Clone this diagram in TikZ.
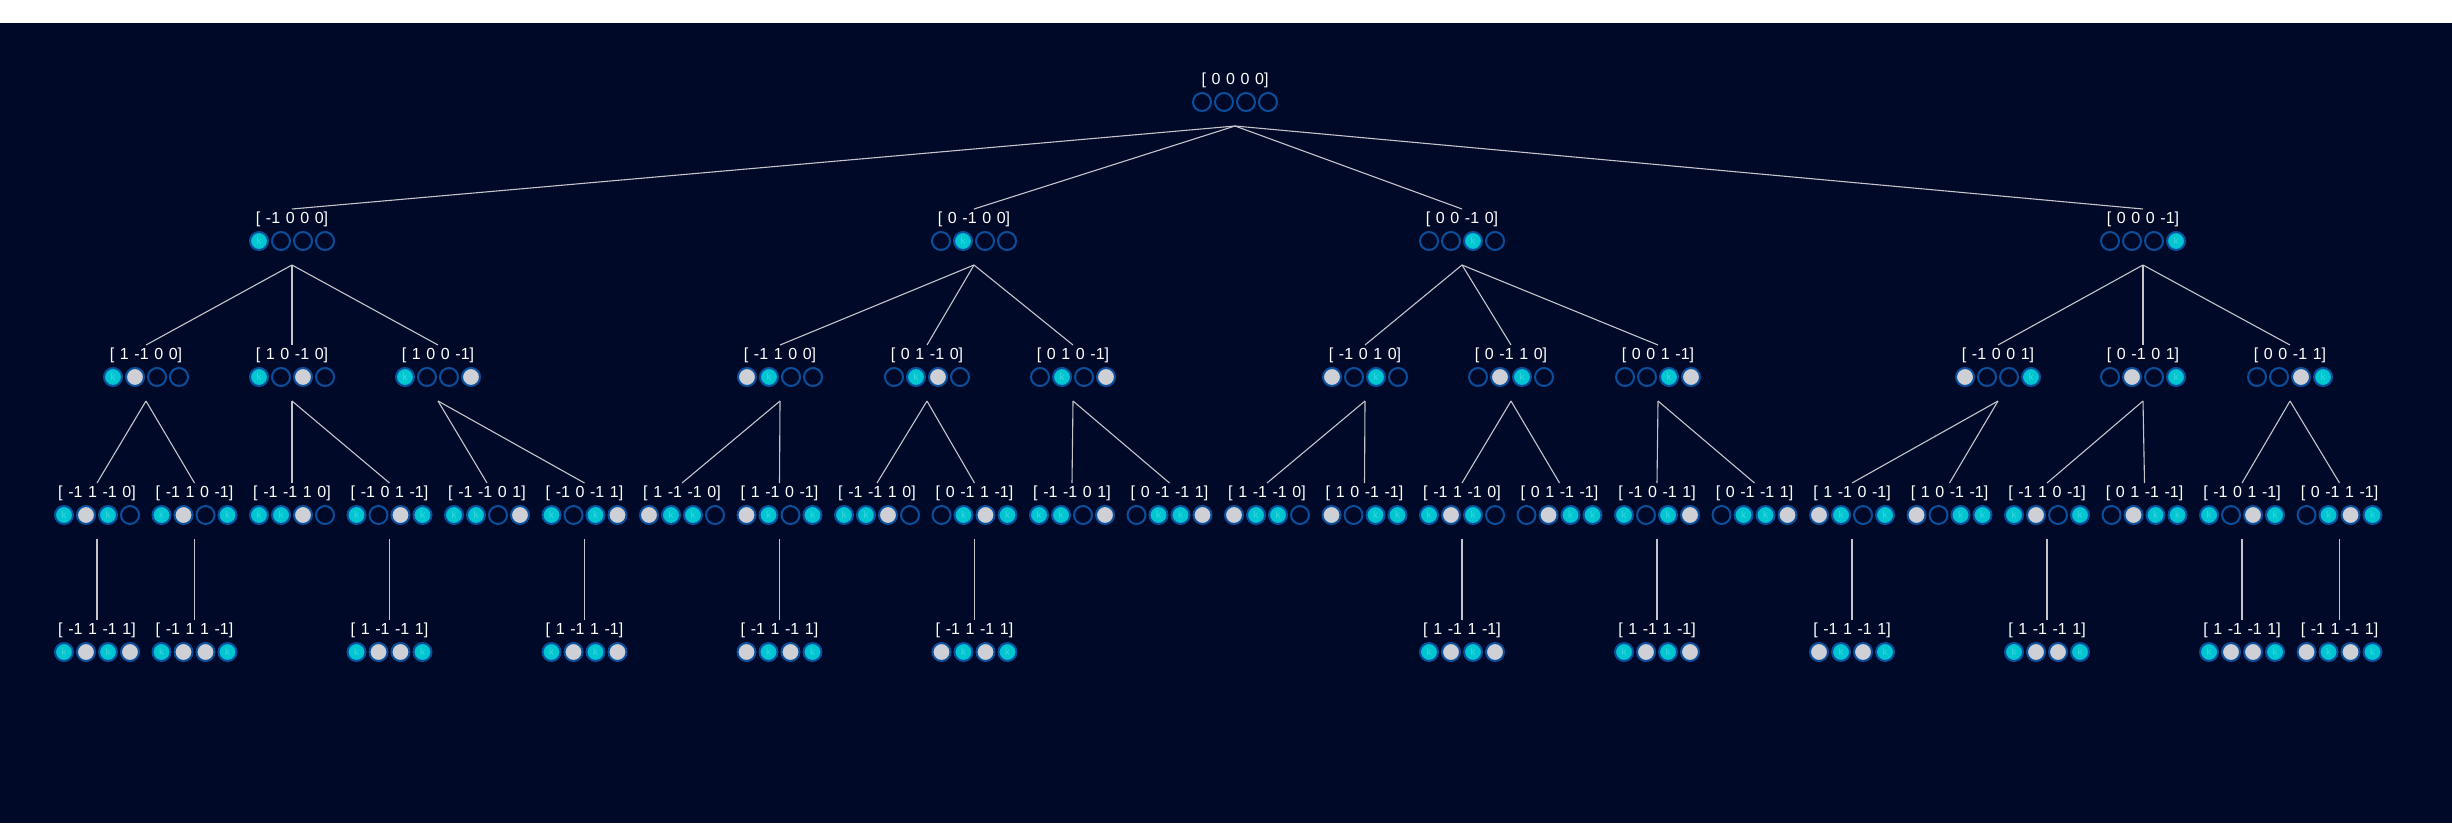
\documentclass[tikz,border=0pt]{standalone}
\usepackage{fontspec}
\setmainfont{Liberation Sans}
\definecolor{bg}{HTML}{000A28}
\definecolor{ring}{HTML}{0B4F9C}
\definecolor{cy}{HTML}{00C6D2}
\definecolor{cyk}{HTML}{3AD6E0}
\definecolor{gr}{HTML}{CFD0D6}
\definecolor{edgecol}{HTML}{C4C4CA}
\tikzset{
 lbl/.style={text=white, inner sep=0pt, font=\fontsize{16}{16}\selectfont},
 dot/.style={circle, draw=ring, line width=2pt, minimum size=18pt, inner sep=0pt},
 dotC/.style={dot, fill=cy},
 dotG/.style={dot, fill=gr},
 dotE/.style={dot, fill=bg},
 link/.style={draw=edgecol, line width=1.1pt},
}
\newcommand\dcC{\fontsize{10}{10}\selectfont\textcolor{cyk}{k}}
\newcommand\dcG{}
\newcommand\dcE{}
\newcommand\tn[5]{%
 \node[lbl] (#1) at (#2,#3) {\spaceskip=5.6pt\relax[ #4]};
 \coordinate (#1-t) at (#2,#3-10);
 \coordinate (#1-b) at (#2,#3+46);
 \foreach \s [count=\i] in {#5} {\node[dot\s] (#1-\i) at ({#2+(\i-2.5)*22},#3+22) {\csname dc\s\endcsname};}
}
\begin{document}
\begin{tikzpicture}[x=1pt,y=-1pt]
\useasboundingbox (0,0) rectangle (2452,823);
\fill[white] (0,0) rectangle (2452,23);
\fill[bg] (0,23) rectangle (2452,823);
% root
\tn{r}{1235}{80}{0 0 0 0}{E,E,E,E}
% level 1
\tn{a}{292}{219}{-1 0 0 0}{C,E,E,E}
\tn{b}{974}{219}{0 -1 0 0}{E,C,E,E}
\tn{c}{1462}{219}{0 0 -1 0}{E,E,C,E}
\tn{d}{2143}{219}{0 0 0 -1}{E,E,E,C}
% level 2
\tn{a1}{146}{355}{1 -1 0 0}{C,G,E,E}
\tn{a2}{292}{355}{1 0 -1 0}{C,E,G,E}
\tn{a3}{438}{355}{1 0 0 -1}{C,E,E,G}
\tn{b1}{780}{355}{-1 1 0 0}{G,C,E,E}
\tn{b2}{927}{355}{0 1 -1 0}{E,C,G,E}
\tn{b3}{1073}{355}{0 1 0 -1}{E,C,E,G}
\tn{c1}{1365}{355}{-1 0 1 0}{G,E,C,E}
\tn{c2}{1511}{355}{0 -1 1 0}{E,G,C,E}
\tn{c3}{1658}{355}{0 0 1 -1}{E,E,C,G}
\tn{d1}{1998}{355}{-1 0 0 1}{G,E,E,C}
\tn{d2}{2143}{355}{0 -1 0 1}{E,G,E,C}
\tn{d3}{2290}{355}{0 0 -1 1}{E,E,G,C}
% level 3
\tn{n1}{97}{493}{-1 1 -1 0}{C,G,C,E}
\tn{n2}{194.5}{493}{-1 1 0 -1}{C,G,E,C}
\tn{n3}{292}{493}{-1 -1 1 0}{C,C,G,E}
\tn{n4}{389.5}{493}{-1 0 1 -1}{C,E,G,C}
\tn{n5}{487}{493}{-1 -1 0 1}{C,C,E,G}
\tn{n6}{584.5}{493}{-1 0 -1 1}{C,E,C,G}
\tn{n7}{682}{493}{1 -1 -1 0}{G,C,C,E}
\tn{n8}{779.5}{493}{1 -1 0 -1}{G,C,E,C}
\tn{n9}{877}{493}{-1 -1 1 0}{C,C,G,E}
\tn{n10}{974.5}{493}{0 -1 1 -1}{E,C,G,C}
\tn{n11}{1072}{493}{-1 -1 0 1}{C,C,E,G}
\tn{n12}{1169.5}{493}{0 -1 -1 1}{E,C,C,G}
\tn{n13}{1267}{493}{1 -1 -1 0}{G,C,C,E}
\tn{n14}{1364.5}{493}{1 0 -1 -1}{G,E,C,C}
\tn{n15}{1462}{493}{-1 1 -1 0}{C,G,C,E}
\tn{n16}{1559.5}{493}{0 1 -1 -1}{E,G,C,C}
\tn{n17}{1657}{493}{-1 0 -1 1}{C,E,C,G}
\tn{n18}{1754.5}{493}{0 -1 -1 1}{E,C,C,G}
\tn{n19}{1852}{493}{1 -1 0 -1}{G,C,E,C}
\tn{n20}{1949.5}{493}{1 0 -1 -1}{G,E,C,C}
\tn{n21}{2047}{493}{-1 1 0 -1}{C,G,E,C}
\tn{n22}{2144.5}{493}{0 1 -1 -1}{E,G,C,C}
\tn{n23}{2242}{493}{-1 0 1 -1}{C,E,G,C}
\tn{n24}{2339.5}{493}{0 -1 1 -1}{E,C,G,C}
% level 4
\tn{m1}{97}{630}{-1 1 -1 1}{C,G,C,G}
\tn{m2}{194.5}{630}{-1 1 1 -1}{C,G,G,C}
\tn{m4}{389.5}{630}{1 -1 -1 1}{C,G,G,C}
\tn{m6}{584.5}{630}{1 -1 1 -1}{C,G,C,G}
\tn{m8}{779.5}{630}{-1 1 -1 1}{G,C,G,C}
\tn{m10}{974.5}{630}{-1 1 -1 1}{G,C,G,C}
\tn{m15}{1462}{630}{1 -1 1 -1}{C,G,C,G}
\tn{m17}{1657}{630}{1 -1 1 -1}{C,G,C,G}
\tn{m19}{1852}{630}{-1 1 -1 1}{G,C,G,C}
\tn{m21}{2047}{630}{1 -1 -1 1}{C,G,G,C}
\tn{m23}{2242}{630}{1 -1 -1 1}{C,G,G,C}
\tn{m24}{2339.5}{630}{-1 1 -1 1}{G,C,G,C}
% edges
\foreach \p/\c in {r/a,r/b,r/c,r/d,
 a/a1,a/a2,a/a3,b/b1,b/b2,b/b3,c/c1,c/c2,c/c3,d/d1,d/d2,d/d3,
 a1/n1,a1/n2,a2/n3,a2/n4,a3/n5,a3/n6,b1/n7,b1/n8,b2/n9,b2/n10,b3/n11,b3/n12,
 c1/n13,c1/n14,c2/n15,c2/n16,c3/n17,c3/n18,d1/n19,d1/n20,d2/n21,d2/n22,d3/n23,d3/n24,
 n1/m1,n2/m2,n4/m4,n6/m6,n8/m8,n10/m10,n15/m15,n17/m17,n19/m19,n21/m21,n23/m23,n24/m24}
 {\draw[link] (\p-b) -- (\c-t);}
\end{tikzpicture}
\end{document}
